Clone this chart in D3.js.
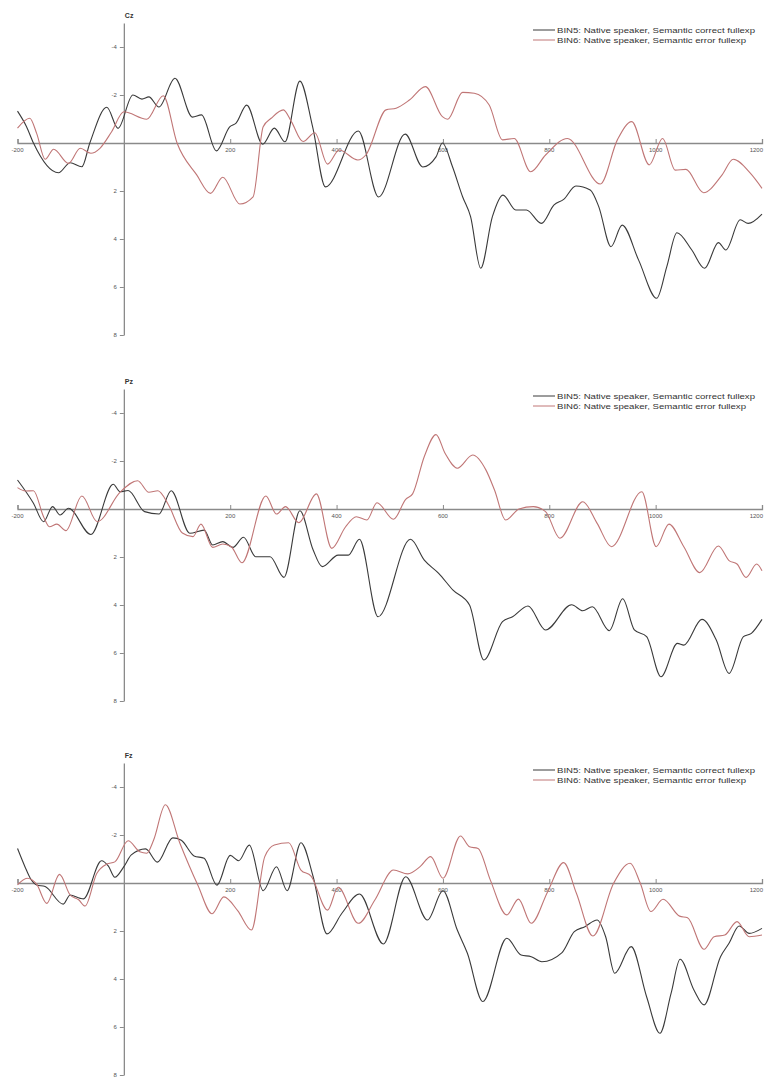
<!DOCTYPE html>
<html>
<head>
<meta charset="utf-8">
<script src="https://cdn.jsdelivr.net/npm/d3@7"></script>
<style>
  body { margin: 0; background: #fff; }
  svg { display: block; font-family: "Liberation Sans", Arial, sans-serif; }
  .axis line, .axis path { stroke: #8a8a8a; }
  .tick-label { fill: #555; font-size: 6px; }
</style>
</head>
<body>
<script>
// channel names and legend text
const channels = ["Cz", "Pz", "Fz"];
const legendLabels = [
  "BIN5: Native speaker, Semantic correct fullexp",
  "BIN6: Native speaker, Semantic error fullexp"
];
const xTicks = [-200, 200, 400, 600, 800, 1000, 1200];
const yTicks = [-4, -2, 2, 4, 6, 8];

// waveforms: [time ms, amplitude uV] (negative plotted up)
const czCorrect = [[-200,-1.33],[-183,-0.68],[-170,0],[-123,1.24],[-101,0.82],[-79,0.99],[-64,0],[-32,-1.49],[-11,-0.61],[17,-2.0],[34,-1.83],[47,-1.92],[66,-1.5],[96,-2.7],[129,-1.08],[146,-1.17],[174,0.33],[199,-0.67],[211,-0.83],[231,-1.58],[261,0.05],[283,-0.62],[303,-0.05],[331,-2.58],[355,-0.67],[379,1.83],[441,-0.5],[479,2.25],[529,-0.37],[562,1.0],[587,0.58],[599,0],[618,0.99],[637,2.24],[652,3.07],[671,5.22],[693,3.07],[713,2.17],[737,2.79],[757,2.79],[785,3.35],[809,2.58],[827,2.35],[850,1.79],[877,1.96],[893,2.65],[916,4.32],[937,3.42],[968,4.88],[1002,6.47],[1021,5.15],[1040,3.74],[1068,4.46],[1092,5.22],[1118,4.15],[1132,4.46],[1159,3.2],[1174,3.35],[1200,2.96]];
const czError = [[-200,-0.62],[-177,-1.03],[-164,-0.4],[-148,0.68],[-132,0.26],[-104,0.85],[-82,0.22],[-62,0.43],[-45,0.22],[-23,-0.47],[0,-1.3],[43,-0.99],[74,-1.97],[100,0],[137,1.33],[163,2.1],[186,1.43],[218,2.54],[243,2.24],[262,-0.68],[277,-1.03],[300,-1.38],[315,-0.89],[337,-0.06],[359,-0.43],[383,0.88],[405,0.29],[440,0.71],[455,0.5],[493,-1.38],[512,-1.45],[537,-1.79],[567,-2.35],[599,-1.1],[609,-0.99],[637,-2.11],[659,-2.07],[687,-1.58],[712,-0.13],[734,-0.19],[765,1.2],[793,0.5],[834,-0.19],[896,1.71],[928,-0.13],[955,-0.89],[988,0.91],[1013,-0.19],[1037,1.13],[1057,1.1],[1090,2.07],[1125,1.33],[1146,0.68],[1178,1.26],[1200,1.89]];

const pzCorrect = [[-200,-1.21],[-170,-0.24],[-151,0.53],[-134,-0.1],[-120,0.25],[-104,-0.03],[-62,1.06],[-20,-1.03],[-7,-0.72],[8,-0.77],[39,0.11],[66,0.21],[89,-0.76],[124,1.01],[151,0.88],[167,1.5],[186,1.36],[205,1.6],[225,1.18],[248,1.99],[275,1.99],[301,2.85],[331,0.07],[356,1.71],[373,2.4],[403,1.92],[422,1.92],[443,1.26],[478,4.49],[539,1.26],[565,2.13],[592,2.68],[619,3.38],[650,4.0],[677,6.29],[712,4.69],[731,4.49],[760,4.04],[793,5.04],[842,3.99],[863,4.24],[881,4.07],[913,5.07],[938,3.74],[960,5.04],[983,5.32],[1010,6.99],[1041,5.6],[1053,5.67],[1087,4.6],[1114,5.46],[1138,6.85],[1165,5.32],[1180,5.18],[1200,4.6]];
const pzError = [[-200,-0.89],[-185,-0.75],[-170,-0.76],[-151,0.32],[-140,0.74],[-126,0.63],[-109,0.9],[-79,-0.54],[-50,0.53],[-7,-0.7],[26,-1.18],[47,-0.7],[64,-0.76],[84,-0.17],[110,1.0],[130,1.15],[145,0.63],[167,1.6],[186,1.46],[202,1.57],[222,2.24],[267,-0.54],[287,0.21],[304,-0.1],[329,0.57],[362,-0.63],[391,1.64],[417,0.74],[437,0.32],[457,0.46],[476,-0.26],[507,0.43],[530,-0.4],[543,-0.63],[565,-2.19],[587,-3.1],[604,-2.32],[627,-1.7],[656,-2.25],[681,-1.62],[697,-0.79],[718,0.46],[743,0],[770,-0.1],[793,0.11],[820,1.22],[863,-0.3],[890,0.6],[917,1.57],[974,-0.72],[1001,1.57],[1025,0.63],[1053,1.57],[1083,2.65],[1118,1.54],[1138,2.15],[1153,2.29],[1170,2.85],[1190,2.29],[1200,2.57]];

const fzCorrect = [[-200,-1.44],[-186,-0.68],[-176,-0.2],[-164,0.08],[-148,0.15],[-114,0.88],[-101,0.5],[-82,0.64],[-76,0.66],[-42,-0.93],[-29,-0.7],[-17,-0.24],[0,-0.68],[14,-1.17],[41,-1.42],[63,-0.87],[92,-1.88],[108,-1.78],[132,-1.13],[151,-1.03],[175,0.09],[200,-1.15],[216,-0.93],[236,-1.58],[262,0.32],[287,-0.68],[307,0.32],[333,-1.68],[356,-0.26],[382,2.12],[410,1.26],[443,0.46],[488,2.54],[530,-0.26],[571,1.54],[600,0.32],[627,1.96],[646,2.93],[675,4.94],[720,2.3],[747,3.0],[766,3.07],[786,3.28],[824,2.9],[847,2.03],[867,1.82],[890,1.54],[906,2.24],[923,3.76],[954,2.65],[983,4.74],[1008,6.26],[1029,4.6],[1046,3.18],[1072,4.46],[1091,5.08],[1122,3.07],[1138,2.51],[1157,1.79],[1176,2.1],[1200,1.89]];
const fzError = [[-200,0.08],[-182,-0.2],[-164,0.05],[-145,0.85],[-121,-0.36],[-101,0.5],[-85,0.7],[-73,0.96],[-51,-0.4],[-32,-0.79],[-17,-0.88],[8,-1.76],[30,-1.3],[43,-1.24],[56,-1.79],[78,-3.26],[105,-1.68],[139,0.08],[166,1.28],[188,0.58],[214,1.15],[240,1.96],[265,-1.1],[283,-1.58],[310,-1.68],[333,-0.54],[352,-0.29],[383,1.13],[403,0.18],[441,1.68],[472,0.71],[507,-0.54],[534,-0.38],[557,-0.68],[577,-1.1],[600,-0.2],[633,-1.96],[650,-1.51],[666,-1.44],[689,-0.13],[720,1.33],[742,0.67],[766,1.68],[797,0.36],[827,-0.85],[851,0.43],[882,2.21],[921,0.01],[952,-0.82],[971,0],[991,1.19],[1014,0.68],[1045,1.38],[1060,1.45],[1091,2.76],[1110,2.24],[1130,2.17],[1153,1.61],[1176,2.24],[1200,2.17]];

const channelData = [[czCorrect, czError], [pzCorrect, pzError], [fzCorrect, fzError]];
const seriesColors = ["#3a3a3a", "#c07676"];

// layout
const width = 764, height = 1078;
const zeroLines = [143, 509, 883];
const pxPerUv = 24;
const legendWidths = [198, 189];

const svg = d3.select("body").append("svg")
  .attr("width", width)
  .attr("height", height);

const x = d3.scaleLinear().domain([-200, 1200]).range([17.5, 762]);

channels.forEach(function(name, i) {
  const y0 = zeroLines[i];
  const y = d3.scaleLinear().domain([-5, 8]).range([y0 - 5 * pxPerUv, y0 + 8 * pxPerUv]);
  const g = svg.append("g");

  // x axis along zero
  const xAxis = g.append("g").attr("class", "axis")
    .attr("transform", "translate(0," + y(0) + ")")
    .call(d3.axisTop(x).tickValues(xTicks).tickSize(4).tickFormat(""));
  xAxis.select(".domain").attr("stroke-width", 1.3);
  xAxis.selectAll(".tick line").attr("stroke-width", 1);
  g.selectAll(".xlab")
    .data(xTicks)
    .enter().append("text")
    .attr("class", "tick-label")
    .attr("x", d => d === 1200 ? width - 1 : x(d))
    .attr("y", y(0) + 9)
    .attr("text-anchor", d => d === 1200 ? "end" : "middle")
    .text(d => d);

  // y axis at time 0
  const yAxis = g.append("g").attr("class", "axis")
    .attr("transform", "translate(" + x(0) + ",0)")
    .call(d3.axisLeft(y).tickValues(yTicks).tickSize(4).tickSizeOuter(0).tickFormat(""));
  yAxis.select(".domain").attr("stroke-width", 1.3);
  g.selectAll(".ylab")
    .data(yTicks)
    .enter().append("text")
    .attr("class", "tick-label")
    .attr("x", x(0) - 7)
    .attr("y", d => y(d) + 2)
    .attr("text-anchor", "end")
    .text(d => d);

  // channel title
  g.append("text")
    .attr("x", x(0) + 1)
    .attr("y", y(-5) - 5)
    .attr("font-size", 7)
    .attr("font-weight", "bold")
    .attr("fill", "#333")
    .text(name);

  // waveforms
  const line = d3.line()
    .x(d => x(d[0]))
    .y(d => y(d[1]))
    .curve(d3.curveMonotoneX);

  channelData[i].forEach(function(series, s) {
    g.append("path")
      .datum(series)
      .attr("fill", "none")
      .attr("stroke", seriesColors[s])
      .attr("stroke-width", 1.1)
      .attr("d", line);
  });

  // legend
  legendLabels.forEach(function(label, s) {
    const ly = y0 - 113 + s * 10;
    g.append("line")
      .attr("x1", 533).attr("x2", 555)
      .attr("y1", ly).attr("y2", ly)
      .attr("stroke", seriesColors[s])
      .attr("stroke-width", 1);
    g.append("text")
      .attr("x", 557)
      .attr("y", ly + 3)
      .attr("font-size", 8)
      .attr("textLength", legendWidths[s])
      .attr("lengthAdjust", "spacingAndGlyphs")
      .attr("fill", "#333")
      .text(label);
  });
});
</script>
</body>
</html>
